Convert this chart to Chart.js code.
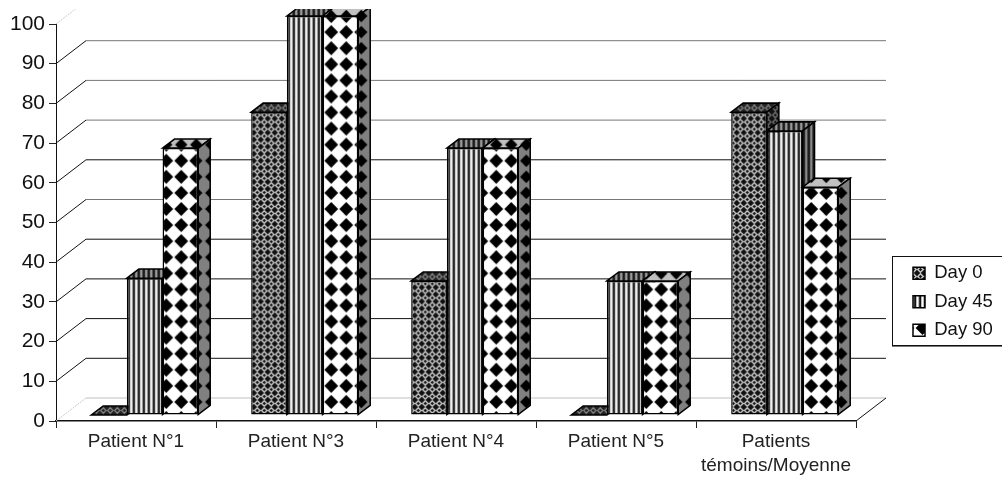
<!DOCTYPE html>
<html><head><meta charset="utf-8">
<style>html,body{margin:0;padding:0;background:#fff}canvas{display:block}</style>
<script src="https://cdn.jsdelivr.net/npm/chart.js@4"></script>
</head><body><canvas id="c" width="1002" height="483"></canvas>
<script>
const categories = ['Patient N°1','Patient N°3','Patient N°4','Patient N°5',['Patients','témoins/Moyenne']];
const day0 = [0,75.9,33.6,0,75.9];
const day45 = [34.3,100,66.9,33.6,71.2];
const day90 = [66.9,100,66.9,33.6,57.1];
const seriesNames = ['Day 0','Day 45','Day 90'];
const yTicksStep = 10;

function tile(w,h,draw){const c=document.createElement('canvas');c.width=w;c.height=h;draw(c.getContext('2d'),w,h);return document.createElement('canvas').getContext('2d').createPattern(c,'repeat');}
function lattice(bg,dot,lw){return tile(7,7,(g,w,h)=>{g.fillStyle=bg;g.fillRect(0,0,w,h);g.strokeStyle=dot;g.lineWidth=lw;
  g.beginPath();g.moveTo(3.5,0.8);g.lineTo(6.2,3.5);g.lineTo(3.5,6.2);g.lineTo(0.8,3.5);g.closePath();g.stroke();});}
function stripes(cols){return tile(cols.length,2,(g,w,h)=>{cols.forEach((c,i)=>{g.fillStyle=c;g.fillRect(i,0,1,h);});});}
function diamonds(bg,r,w=15,h=16){return tile(w,h,(g)=>{g.fillStyle=bg;g.fillRect(0,0,w,h);g.fillStyle='#000';
  g.beginPath();g.moveTo(w/2,h/2-r);g.lineTo(w/2+r,h/2);g.lineTo(w/2,h/2+r);g.lineTo(w/2-r,h/2);g.closePath();g.fill();});}

const front=[lattice('#111','#c4c4c4',1.5),stripes(['#111','#bbb','#fff','#bbb','#333']),diamonds('#fff',6.9)];
const topF=[lattice('#222','#888',1.3),stripes(['#111','#777','#aaa','#666','#222']),diamonds('#c0c0c0',6.2)];
const sideF=[lattice('#111','#777',1.3),stripes(['#111','#666','#999','#555','#222']),diamonds('#808080',6.2)];

const depthPlane={dx:30,dy:-23}, barShift={dx:8.7,dy:-6,sy:1.005}, barDepth={dx:12,dy:-9};
const grayLines=[90,80,70,50];

const scene={id:'scene',
  afterLayout(chart){const L=chart.legend;L.left=903;L.right=1002;L.top=254;L.bottom=400;L.width=99;L.height=146;},
  beforeDatasetsDraw(chart){
    const {ctx,scales:{x,y}}=chart;
    ctx.save();
    ctx.beginPath();ctx.rect(0,9,1002,474);ctx.clip();
    const l=x.left,r=x.right,P=depthPlane;
    y.ticks.forEach(t=>{const v=t.value,py=y.getPixelForValue(v);
      const faint=(v===0||v===100);
      ctx.lineWidth=1;
      ctx.setLineDash(faint?[2,1]:[]);
      ctx.strokeStyle=faint?'#c8c8c8':'#111';
      ctx.beginPath();ctx.moveTo(l,py);ctx.lineTo(l+P.dx,py+P.dy);ctx.stroke();
      ctx.setLineDash([]);
      ctx.strokeStyle=faint?'#c0c0c0':(grayLines.includes(v)?'#777':'#111');
      ctx.beginPath();ctx.moveTo(l+P.dx,py+P.dy);ctx.lineTo(r+P.dx,py+P.dy);ctx.stroke();
    });
    const y0=y.getPixelForValue(0);
    ctx.strokeStyle='#111';ctx.beginPath();ctx.moveTo(r,y0);ctx.lineTo(r+P.dx,y0+P.dy);ctx.stroke();
    ctx.translate(barShift.dx,barShift.dy+y0);ctx.scale(1,barShift.sy);ctx.translate(0,-y0);
    const D=barDepth;
    [0,1,2].forEach(i=>{
      const meta=chart.getDatasetMeta(i);
      meta.data.forEach(b=>{
        const L=b.x-b.width/2,R=b.x+b.width/2,T=b.y,B=b.base;
        ctx.lineWidth=1.5;ctx.strokeStyle='#000';ctx.lineJoin='miter';
        ctx.fillStyle=topF[i];ctx.beginPath();ctx.moveTo(L,T);ctx.lineTo(L+D.dx,T+D.dy);ctx.lineTo(R+D.dx,T+D.dy);ctx.lineTo(R,T);ctx.closePath();ctx.fill();ctx.stroke();
        if(B-T>0.5){ctx.fillStyle=sideF[i];ctx.beginPath();ctx.moveTo(R,T);ctx.lineTo(R+D.dx,T+D.dy);ctx.lineTo(R+D.dx,B+D.dy);ctx.lineTo(R,B);ctx.closePath();ctx.fill();ctx.stroke();}
      });
      meta.controller.draw();
    });
    ctx.restore();
    return false;
  },
  afterDraw(chart){const {ctx}=chart;ctx.save();
    ctx.strokeStyle='#111';ctx.lineWidth=1;ctx.strokeRect(892.5,256.5,120,89);
    ctx.strokeStyle='#777';ctx.beginPath();ctx.moveTo(892,346.5);ctx.lineTo(1002,346.5);ctx.stroke();
    ctx.restore();}
};

new Chart(document.getElementById('c'),{
  type:'bar',
  data:{labels:categories,datasets:[day0,day45,day90].map((d,i)=>({label:seriesNames[i],data:d,backgroundColor:front[i],borderColor:'#000',borderWidth:1.5,borderSkipped:false}))},
  plugins:[scene],
  options:{
    responsive:false,animation:false,events:[],
    layout:{padding:{top:24,left:0,right:146,bottom:0}},
    datasets:{bar:{categoryPercentage:0.669,barPercentage:1}},
    plugins:{tooltip:{enabled:false},title:{display:false},
      legend:{display:true,position:'chartArea',align:'start',
        labels:{boxWidth:12,boxHeight:12,padding:10,color:'#111',font:{family:'Liberation Sans',size:18.5}}}},
    scales:{
      x:{offset:true,afterFit:s=>{s.height=62;},
        grid:{offset:true,drawOnChartArea:false,drawTicks:true,tickLength:7,color:'#222',lineWidth:1},
        border:{display:true,color:'#111',width:1.5},
        ticks:{color:'#222',padding:2,maxRotation:0,autoSkip:false,font:{family:'Liberation Sans',size:19,lineHeight:1.26}}},
      y:{min:0,max:100,afterFit:s=>{s.width=56;},
        grid:{drawOnChartArea:false,tickLength:7,color:'#222',lineWidth:1},
        border:{display:true,color:'#111',width:1},
        ticks:{stepSize:yTicksStep,color:'#111',padding:4,font:{family:'Liberation Sans',size:21}}}
    }
  }
});
</script></body></html>
